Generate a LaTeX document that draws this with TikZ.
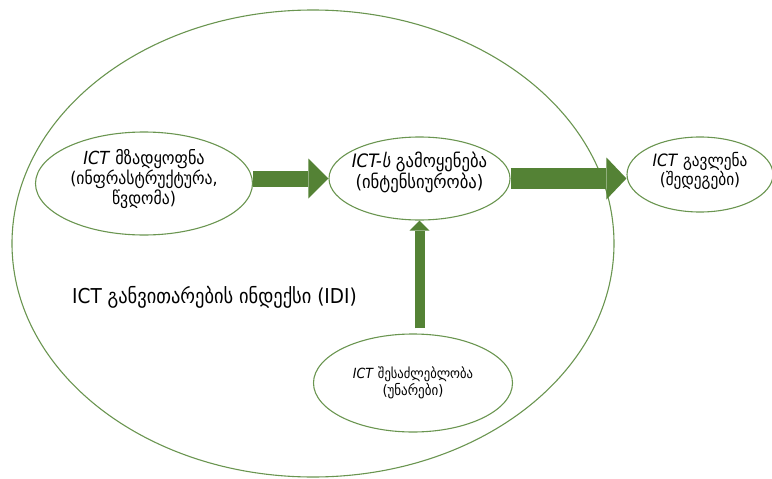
\documentclass[tikz,border=0pt]{standalone}
\usepackage{fontspec}
\setmainfont{DejaVu Sans Condensed}
\usetikzlibrary{shapes.geometric,arrows.meta}
\definecolor{linegreen}{HTML}{6A9550}
\definecolor{arrowgreen}{HTML}{548235}
\tikzset{
  oval/.style={ellipse, draw=linegreen, line width=1.1pt, inner sep=0pt},
  ovaltext/.style={inner sep=0pt, align=center, text=black},
  blockarrow/.style={draw=arrowgreen, line cap=butt}
}
\begin{document}
\begin{tikzpicture}[x=1pt,y=-1pt]
\useasboundingbox (0,0) rectangle (772,479);
\node[oval, minimum width=602pt, minimum height=467pt] (idi) at (313,243.5) {};
\node[oval, minimum width=217pt, minimum height=103pt] (ready) at (144,183.5) {};
\node[oval, minimum width=181pt, minimum height=83pt] (use) at (419.5,178.5) {};
\node[oval, minimum width=146pt, minimum height=75pt] (impact) at (700,174.5) {};
\node[oval, minimum width=199pt, minimum height=98pt] (skill) at (413,383) {};
\node[ovaltext] (readytext) at ([yshift=4.5pt]ready.center)
  {\fontsize{18}{20}\selectfont\textit{ICT} მზადყოფნა\\
   \fontsize{17.5}{19}\selectfont (ინფრასტრუქტურა,\\ \fontsize{17.5}{18}\selectfont წვდომა)};
\node[ovaltext] (usetext) at ([yshift=6pt]use.center)
  {\fontsize{18.5}{21}\selectfont\textit{ICT-ს} გამოყენება\\ \fontsize{18.5}{21}\selectfont(ინტენსიურობა)};
\node[ovaltext] (impacttext) at ([yshift=3.5pt]impact.center)
  {\fontsize{17}{18.5}\selectfont\textit{ICT} გავლენა\\ \fontsize{17}{18.5}\selectfont(შედეგები)};
\node[ovaltext] (skilltext) at (skill.center)
  {\fontsize{14}{19}\selectfont\textit{ICT} შესაძლებლობა\\ \fontsize{14.5}{19}\selectfont(უნარები)};
\node[anchor=west, inner sep=0pt, font=\fontsize{20.5}{23}\selectfont] (idilabel) at (72,297) {ICT განვითარების ინდექსი (IDI)};
\draw[blockarrow, line width=16pt, -{Triangle[length=20pt,width=40pt,line width=0pt]}]
  (ready.east |- use.center) -- (use.west);
\draw[blockarrow, line width=21pt, -{Triangle[length=20pt,width=42pt,line width=0pt]}]
  (use.east) -- (use.east -| impact.west);
\draw[blockarrow, line width=10pt, shorten <=5pt, -{Triangle[length=10pt,width=20pt,line width=0pt]}]
  (use.south |- skill.north) -- (use.south);
\end{tikzpicture}
\end{document}
